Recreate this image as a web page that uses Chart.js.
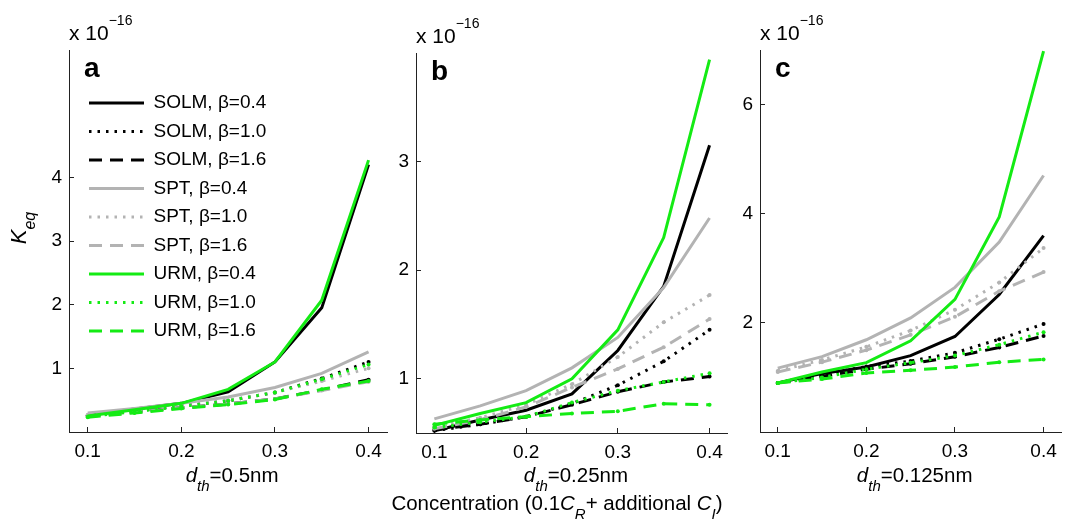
<!DOCTYPE html>
<html>
<head>
<meta charset="utf-8">
<script src="https://cdn.jsdelivr.net/npm/chart.js@4.4.1/dist/chart.umd.min.js"></script>
<style>
  html, body { margin: 0; padding: 0; background: #fff; overflow: hidden; }
  #fig { position: relative; width: 1067px; height: 521px; overflow: hidden; }
  canvas { position: absolute; top: 0; }
</style>
</head>
<body>
<div id="fig">
  <canvas id="panelA"></canvas>
  <canvas id="panelB"></canvas>
  <canvas id="panelC"></canvas>
</div>
<script>
// concentration values on the x axis
const xs = [0.1, 0.15, 0.2, 0.25, 0.3, 0.35, 0.4];
const xTicks = [0.1, 0.2, 0.3, 0.4];

const seriesNames = [
  'SOLM, β=0.4', 'SOLM, β=1.0', 'SOLM, β=1.6',
  'SPT, β=0.4', 'SPT, β=1.0', 'SPT, β=1.6',
  'URM, β=0.4', 'URM, β=1.0', 'URM, β=1.6'
];

// panel a, d_th = 0.5nm  (x 1e-16)
const solmA04 = [0.27, 0.36, 0.45, 0.63, 1.10, 1.95, 4.20];
const solmA10 = [0.26, 0.33, 0.41, 0.49, 0.62, 0.84, 1.10];
const solmA16 = [0.25, 0.32, 0.38, 0.44, 0.52, 0.66, 0.82];
const sptA04  = [0.30, 0.37, 0.45, 0.55, 0.70, 0.92, 1.26];
const sptA10  = [0.27, 0.34, 0.41, 0.50, 0.62, 0.80, 1.00];
const sptA16  = [0.25, 0.31, 0.38, 0.44, 0.52, 0.65, 0.79];
const urmA04  = [0.25, 0.35, 0.45, 0.67, 1.10, 2.07, 4.27];
const urmA10  = [0.24, 0.32, 0.40, 0.49, 0.62, 0.83, 1.06];
const urmA16  = [0.23, 0.30, 0.37, 0.43, 0.51, 0.67, 0.80];

// panel b, d_th = 0.25nm
const solmB04 = [0.52, 0.62, 0.71, 0.86, 1.26, 1.85, 3.15];
const solmB10 = [0.52, 0.58, 0.65, 0.77, 0.94, 1.16, 1.45];
const solmB16 = [0.53, 0.58, 0.65, 0.76, 0.88, 0.97, 1.02];
const sptB04  = [0.63, 0.75, 0.89, 1.10, 1.38, 1.84, 2.48];
const sptB10  = [0.56, 0.64, 0.76, 0.95, 1.20, 1.52, 1.77];
const sptB16  = [0.54, 0.62, 0.74, 0.92, 1.09, 1.29, 1.55];
const urmB04  = [0.57, 0.68, 0.78, 1.00, 1.45, 2.30, 3.94];
const urmB10  = [0.55, 0.60, 0.65, 0.78, 0.89, 0.97, 1.05];
const urmB16  = [0.58, 0.62, 0.65, 0.68, 0.70, 0.77, 0.76];

// panel c, d_th = 0.125nm
const solmC04 = [0.90, 1.07, 1.19, 1.40, 1.75, 2.52, 3.60];
const solmC10 = [0.90, 1.05, 1.20, 1.30, 1.45, 1.70, 1.98];
const solmC16 = [0.90, 1.02, 1.15, 1.25, 1.38, 1.55, 1.76];
const sptC04  = [1.17, 1.38, 1.69, 2.09, 2.65, 3.48, 4.70];
const sptC10  = [1.12, 1.32, 1.56, 1.86, 2.24, 2.74, 3.37];
const sptC16  = [1.10, 1.28, 1.50, 1.78, 2.11, 2.58, 2.93];
const urmC04  = [0.90, 1.10, 1.27, 1.67, 2.43, 3.94, 6.98];
const urmC10  = [0.90, 1.00, 1.15, 1.27, 1.40, 1.60, 1.83];
const urmC16  = [0.90, 0.97, 1.08, 1.13, 1.19, 1.28, 1.33];

const yTicksA = [1, 2, 3, 4];
const yTicksB = [1, 2, 3];
const yTicksC = [2, 4, 6];

const H = 521;
const FAM = '"Liberation Sans", Arial, Helvetica, sans-serif';
const F21 = '21px ' + FAM;
const F14 = '14px ' + FAM;
const L20 = '20.5px ' + FAM;
const LI20 = 'italic 20.5px ' + FAM;
const LI15 = 'italic 15px ' + FAM;
const I22 = 'italic 22px ' + FAM;
const I16 = 'italic 16px ' + FAM;
const B28 = 'bold 28px ' + FAM;
const AXIS = '#222';

const BLACK = '#000000', GRAY = '#b3b3b3', GREEN = 'rgb(20,235,20)';
const DOT = [2.5, 6], DASH = [13, 8];
const styles = [
  {c: BLACK, d: [], m: false}, {c: BLACK, d: DOT, m: true}, {c: BLACK, d: DASH, m: true},
  {c: GRAY, d: [], m: false}, {c: GRAY, d: DOT, m: true}, {c: GRAY, d: DASH, m: true},
  {c: GREEN, d: [], m: false}, {c: GREEN, d: DOT, m: true}, {c: GREEN, d: DASH, m: true}
];

// draw a run of text pieces (for sub/superscripts)
function richText(ctx, x, y, parts, align) {
  let w = 0;
  parts.forEach(p => { ctx.font = p.f; w += ctx.measureText(p.t).width; });
  let cx = align === 'center' ? x - w / 2 : x;
  ctx.textAlign = 'left';
  ctx.textBaseline = 'alphabetic';
  ctx.fillStyle = '#000';
  parts.forEach(p => {
    ctx.font = p.f;
    ctx.fillText(p.t, cx, y + (p.dy || 0));
    cx += ctx.measureText(p.t).width;
  });
}

function labelPlugin(cfg) {
  return {
    id: 'labels' + cfg.letter,
    afterLayout(chart) {
      if (cfg.legend && chart.legend) {
        const lg = chart.legend;
        lg.left = cfg.legend.left - cfg.left;
        lg.top = cfg.legend.top;
        lg.right = chart.chartArea.right;
        lg.bottom = chart.chartArea.bottom;
      }
    },
    afterDraw(chart) {
      const ctx = chart.ctx;
      const a = chart.chartArea;
      ctx.save();
      // exponent label above the axis
      richText(ctx, a.left, a.top - 10, [{t: 'x 10', f: F21}, {t: '\u221216', f: F14, dy: -15}]);
      // panel letter
      richText(ctx, a.left + 15, a.top + 27, [{t: cfg.letter, f: B28}]);
      // x axis title
      richText(ctx, (a.left + a.right) / 2 + 4, 482, [
        {t: 'd', f: LI20}, {t: 'th', f: LI15, dy: 9}, {t: '=' + cfg.dth, f: L20}
      ], 'center');
      if (cfg.yTitle) {
        ctx.save();
        ctx.translate(26 - cfg.left, 228);
        ctx.rotate(-Math.PI / 2);
        richText(ctx, 0, 0, [{t: 'K', f: I22}, {t: 'eq', f: I16, dy: 9}], 'center');
        ctx.restore();
      }
      if (cfg.bottomTitle) {
        richText(ctx, 557 - cfg.left, 510, [
          {t: 'Concentration (0.1', f: L20}, {t: 'C', f: LI20}, {t: 'R', f: LI15, dy: 9},
          {t: '+ additional ', f: L20}, {t: 'C', f: LI20}, {t: 'I', f: LI15, dy: 9}, {t: ')', f: L20}
        ], 'center');
      }
      ctx.restore();
    }
  };
}

function makePanel(cfg) {
  const canvas = document.getElementById(cfg.id);
  canvas.width = cfg.width;
  canvas.height = H;
  canvas.style.left = cfg.left + 'px';
  canvas.style.width = cfg.width + 'px';
  canvas.style.height = H + 'px';

  const yW = cfg.area.left - cfg.left;
  const padR = cfg.left + cfg.width - cfg.area.right;
  const xH = H - cfg.area.bottom;

  const datasets = cfg.series.map((vals, i) => ({
    label: seriesNames[i],
    data: vals.map((v, j) => ({x: xs[j], y: v})),
    borderColor: styles[i].c,
    backgroundColor: styles[i].c,
    borderWidth: 3,
    borderDash: styles[i].d,
    pointRadius: styles[i].m ? 2 : 0,
    pointBorderWidth: 0,
    pointBackgroundColor: styles[i].c,
    tension: 0,
    order: 9 - i,
    clip: false
  }));

  const legendOpts = cfg.legend ? {
    display: true,
    position: 'chartArea',
    align: 'start',
    reverse: true,
    labels: {
      usePointStyle: true,
      pointStyleWidth: 55,
      boxHeight: 19,
      padding: 9.5,
      color: '#000',
      font: {family: FAM, size: 19},
      generateLabels: ch => Chart.defaults.plugins.legend.labels.generateLabels(ch)
        .map(l => {
          const ds = ch.data.datasets[l.datasetIndex];
          return Object.assign(l, {
            pointStyle: 'line',
            lineWidth: 3,
            strokeStyle: ds.borderColor,
            lineDash: ds.borderDash,
            lineCap: 'butt'
          });
        })
    }
  } : {display: false};

  return new Chart(canvas, {
    type: 'line',
    data: {datasets},
    options: {
      responsive: false,
      animation: false,
      devicePixelRatio: 1,
      layout: {padding: {left: 0, right: padR, top: cfg.area.top, bottom: 0}},
      scales: {
        x: {
          type: 'linear',
          bounds: 'data',
          min: 0.08,
          max: 0.42,
          afterBuildTicks: s => { s.ticks = xTicks.map(v => ({value: v})); },
          afterFit: s => { s.height = xH; },
          grid: {drawOnChartArea: false, tickLength: -5, color: AXIS, tickWidth: 1},
          border: {color: AXIS, width: 1},
          ticks: {
            padding: 13, color: '#000', font: {family: FAM, size: 19},
            maxRotation: 0, autoSkip: false,
            callback: v => v.toFixed(1)
          }
        },
        y: {
          type: 'linear',
          bounds: 'data',
          min: cfg.yMin,
          max: cfg.yMax,
          afterBuildTicks: s => { s.ticks = cfg.yTicks.map(v => ({value: v})); },
          afterFit: s => { s.width = yW; },
          grid: {drawOnChartArea: false, tickLength: -5, color: AXIS, tickWidth: 1},
          border: {color: AXIS, width: 1},
          ticks: {
            padding: 12, color: '#000', font: {family: FAM, size: 19},
            callback: v => String(v)
          }
        }
      },
      plugins: {
        legend: legendOpts,
        tooltip: {enabled: false},
        title: {display: false}
      }
    },
    plugins: [labelPlugin(cfg)]
  });
}

makePanel({
  id: 'panelA', letter: 'a', dth: '0.5nm',
  left: 0, width: 395,
  area: {left: 69, right: 392, top: 50, bottom: 432},
  yMin: 0, yMax: 6, yTicks: yTicksA,
  series: [solmA04, solmA10, solmA16, sptA04, sptA10, sptA16, urmA04, urmA10, urmA16],
  legend: {left: 79.5, top: 84},
  yTitle: true
});

makePanel({
  id: 'panelB', letter: 'b', dth: '0.25nm',
  left: 380, width: 356,
  area: {left: 416, right: 733, top: 53, bottom: 433},
  yMin: 0.5, yMax: 4, yTicks: yTicksB,
  series: [solmB04, solmB10, solmB16, sptB04, sptB10, sptB16, urmB04, urmB10, urmB16],
  bottomTitle: true
});

makePanel({
  id: 'panelC', letter: 'c', dth: '0.125nm',
  left: 736, width: 334,
  area: {left: 760, right: 1068, top: 50, bottom: 432},
  yMin: 0, yMax: 7, yTicks: yTicksC,
  series: [solmC04, solmC10, solmC16, sptC04, sptC10, sptC16, urmC04, urmC10, urmC16]
});
</script>
</body>
</html>
